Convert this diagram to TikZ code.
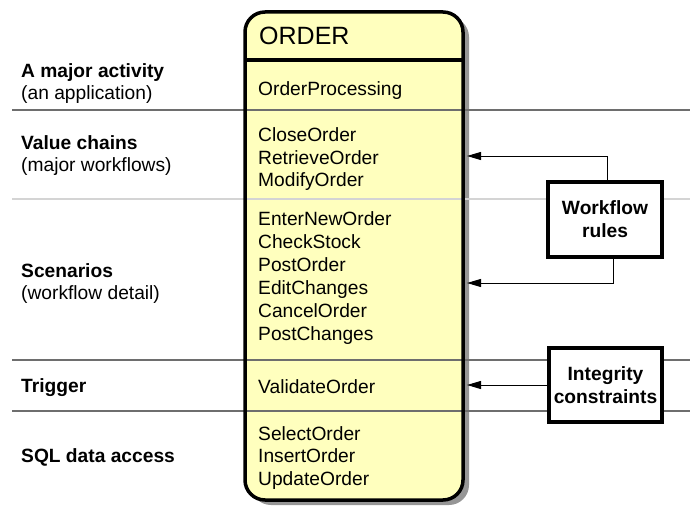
\documentclass[tikz,border=0pt]{standalone}
\usepackage{fontspec}
\setmainfont{Liberation Sans}
\usetikzlibrary{arrows.meta}
\definecolor{boxyellow}{RGB}{255,255,190}
\definecolor{shadowgray}{RGB}{150,150,150}
\definecolor{darkrule}{RGB}{110,110,110}
\definecolor{lightrule}{RGB}{212,212,212}
\begin{document}
\begin{tikzpicture}[x=1pt,y=-1pt,
  txt/.style={font=\fontsize{19.2}{22.5}\selectfont, anchor=base west, inner sep=0pt},
  btxt/.style={txt, font=\fontsize{19.2}{22.5}\selectfont\bfseries},
  rulebox/.style={draw, line width=3.5pt, fill=white, align=center, inner sep=1pt,
    font=\fontsize{19.2}{23}\selectfont\bfseries},
  arr/.style={draw, line width=1pt, -{Triangle[length=14pt,width=8pt]}},
  sep/.style={line width=1.2pt}]
\useasboundingbox (0,0) rectangle (690,508);
% shadow
\fill[shadowgray, rounded corners=20pt] (251,17) rectangle (469,505);
% box fill
\node[fill=boxyellow, rounded corners=20pt, minimum width=218pt, minimum height=488pt,
  inner sep=0pt, outer sep=0pt] (order) at (354,256) {};
% separator lines
\draw[sep, darkrule] (12,110) -- (690,110);
\draw[sep, lightrule] (12,199) -- (690,199);
\draw[sep, darkrule] (12,360) -- (690,360);
\draw[sep, darkrule] (12,411) -- (690,411);
% box frame
\draw[line width=3.5pt, rounded corners=20pt] (order.south west) rectangle (order.north east);
\draw[line width=3.5pt] (245,60) -- (463,60);
% box texts
\node[anchor=base west, inner sep=0pt, font=\fontsize{25}{30}\selectfont] (title) at (259,45) {ORDER};
\node[txt] (m1) at (258,96) {OrderProcessing};
\node[txt] (m2) at (258,141.5) {CloseOrder};
\node[txt] (m3) at (258,164) {RetrieveOrder};
\node[txt] (m4) at (258,186.5) {ModifyOrder};
\node[txt] (m5) at (258,225.5) {EnterNewOrder};
\node[txt] (m6) at (258,248.5) {CheckStock};
\node[txt] (m7) at (258,271.5) {PostOrder};
\node[txt] (m8) at (258,294.5) {EditChanges};
\node[txt] (m9) at (258,317.5) {CancelOrder};
\node[txt] (m10) at (258,340.5) {PostChanges};
\node[txt] (m11) at (258,393) {ValidateOrder};
\node[txt] (m12) at (258,440) {SelectOrder};
\node[txt] (m13) at (258,462.5) {InsertOrder};
\node[txt] (m14) at (258,485) {UpdateOrder};
% left labels
\node[btxt] (l1) at (21,78) {A major activity};
\node[txt] (l1b) at (21,100) {(an application)};
\node[btxt] (l2) at (21,149) {Value chains};
\node[txt] (l2b) at (21,171.5) {(major workflows)};
\node[btxt] (l3) at (21,277) {Scenarios};
\node[txt] (l3b) at (21,299) {(workflow detail)};
\node[btxt] (l4) at (21,392) {Trigger};
\node[btxt] (l5) at (21,462) {SQL data access};
% rule boxes
\node[rulebox, minimum width=114pt, minimum height=75pt] (wf) at (605,219.5) {Workflow\\rules};
\node[rulebox, minimum width=113pt, minimum height=74pt] (ic) at (605.5,385) {Integrity\\constraints};
% connectors
\coordinate (a1) at (467,156);
\coordinate (a2) at (467,283);
\coordinate (a3) at (467,385);
\draw[arr] ([xshift=2pt]wf.north) |- (a1);
\draw[arr] ([xshift=8pt]wf.south) |- (a2);
\draw[arr] (ic.west) -- (a3);
\end{tikzpicture}
\end{document}
